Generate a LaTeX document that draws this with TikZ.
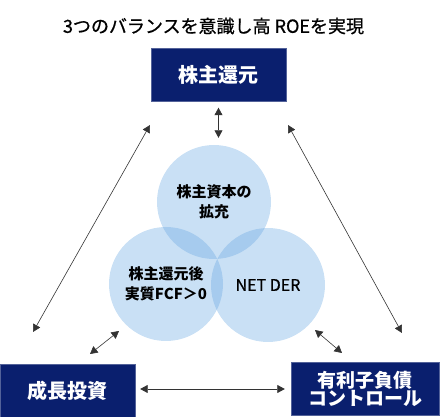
\documentclass[tikz,border=0pt]{standalone}
\usepackage{fontspec}
\setmainfont{Noto Sans CJK JP}
\newfontfamily\midfont[FakeBold=0.8]{Noto Sans CJK JP}
\usetikzlibrary{arrows.meta,positioning,calc}
\definecolor{navy}{RGB}{10,31,110}
\definecolor{bubblefill}{RGB}{100,165,225}

\begin{document}
\begin{tikzpicture}[
    x=1pt, y=-1pt,
    box/.style={rectangle, draw=navy!70!white, fill=navy, text=white, align=center,
                font=\fontsize{20}{24}\selectfont\bfseries, minimum height=53pt, inner sep=0pt},
    bubble/.style={circle, fill=bubblefill, fill opacity=0.35, text opacity=1, align=center,
                   font=\fontsize{15}{20}\selectfont\bfseries, minimum size=114pt, inner sep=0pt},
    dbl/.style={{Triangle[width=8pt,length=7.5pt]}-{Triangle[width=8pt,length=7.5pt]},
                draw=black!80, line width=0.6pt}
  ]
    \useasboundingbox (0,0) rectangle (440,417);

    \node[font=\midfont\fontsize{18}{22}\selectfont] (title) at (213.5,26) {3つのバランスを意識し高 ROEを実現};

    \node[box, minimum width=135pt] (kabu) at (218.5,75) {株主還元};
    \node[box, minimum width=135pt] (seicho) at (67.5,390.5) {成長投資};
    \node[box, minimum width=148pt, font=\fontsize{19}{18}\selectfont\bfseries] (yuri) at (365,388.5) {有利子負債\\コントロール};

    \node[bubble] (top) at (214,202) {株主資本の\\拡充};
    \node[bubble] (left) at (166,284) {株主還元後\\実質FCF＞0};
    \node[bubble, font=\midfont\fontsize{16}{20}\selectfont] (right) at (268,285) {NET DER};

    \coordinate (ltA) at (150,125);
    \coordinate (ltB) at (33,332);
    \coordinate (rtA) at (288,125);
    \coordinate (rtB) at (402,333);
    \coordinate (lsA) at (119,331);
    \coordinate (lsB) at (90,354);
    \coordinate (rsA) at (315,330);
    \coordinate (rsB) at (342,353);

    \draw[dbl, shorten <=6pt, shorten >=7pt] (kabu.south) -- (kabu.south |- top.north);
    \draw[dbl] (ltA) -- (ltB);
    \draw[dbl] (rtA) -- (rtB);
    \draw[dbl] (lsA) -- (lsB);
    \draw[dbl] (rsA) -- (rsB);
    \draw[dbl, shorten <=5pt, shorten >=6pt] ([yshift=1.5pt]seicho.east) -- ([yshift=1.5pt]seicho.east -| yuri.west);
  \end{tikzpicture}
\end{document}
